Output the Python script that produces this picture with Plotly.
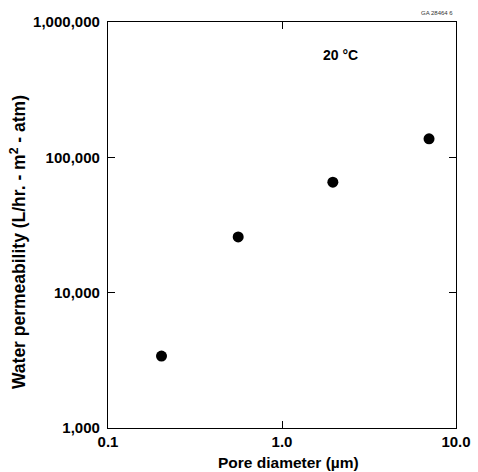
import plotly.graph_objects as go

pore_diameter_um = [0.203, 0.56, 1.96, 7.0]
water_permeability = [3400, 25800, 65500, 137000]

x_tickvals = [0.1, 1.0, 10.0]
x_ticktext = ["0.1", "1.0", "10.0"]
y_tickvals = [1000, 10000, 100000, 1000000]
y_ticktext = ["1,000", "10,000", "100,000", "1,000,000"]

FONT = "Liberation Sans, Arial, Helvetica, sans-serif"

fig = go.Figure()
fig.add_trace(go.Scatter(
    x=pore_diameter_um, y=water_permeability, mode="markers",
    marker=dict(color="black", size=11, line=dict(width=0)),
    showlegend=False,
))

axis_common = dict(
    showline=True, linecolor="black", linewidth=1.3, mirror="ticks",
    ticks="inside", ticklen=7, tickwidth=1, tickcolor="black",
    showgrid=False, zeroline=False, automargin=False,
    tickfont=dict(family=FONT, size=15, color="black", weight="bold"),
)

fig.update_layout(
    width=478, height=472,
    margin=dict(l=108, r=22, t=22, b=44),
    paper_bgcolor="white", plot_bgcolor="white",
    font=dict(family=FONT, color="black"),
    xaxis=dict(
        type="log", range=[-1, 1],
        tickvals=x_tickvals, ticktext=x_ticktext,
        **axis_common,
    ),
    yaxis=dict(
        type="log", range=[3, 6],
        tickvals=y_tickvals, ticktext=y_ticktext,
        ticklabelstandoff=4,
        **axis_common,
    ),
    annotations=[
        dict(text="<b>Pore diameter (µm)</b>", x=0.5, y=0, xref="paper", yref="paper",
             xanchor="center", yanchor="middle", xshift=6, yshift=-34,
             showarrow=False, font=dict(family=FONT, size=15.5, color="black")),
        dict(text="<b>Water permeability (L/hr. - m<sup>2</sup> - atm)</b>",
             x=0, y=0.458, xref="paper", yref="paper", textangle=-90,
             xanchor="center", yanchor="middle", xshift=-90,
             showarrow=False, font=dict(family=FONT, size=17.5, color="black")),
        dict(text="<b>20 °C</b>", x=0.667, y=0.918, xref="paper", yref="paper",
             xanchor="center", yanchor="middle",
             showarrow=False, font=dict(family=FONT, size=14, color="black")),
        dict(text="GA 28464 6", x=0.997, y=1.022, xref="paper", yref="paper",
             xanchor="right", yanchor="middle", showarrow=False,
             font=dict(family=FONT, size=6, color="#333333")),
    ],
)

fig.write_html("out.html", config={"displayModeBar": False},
               post_script="document.body.style.margin='0';")
